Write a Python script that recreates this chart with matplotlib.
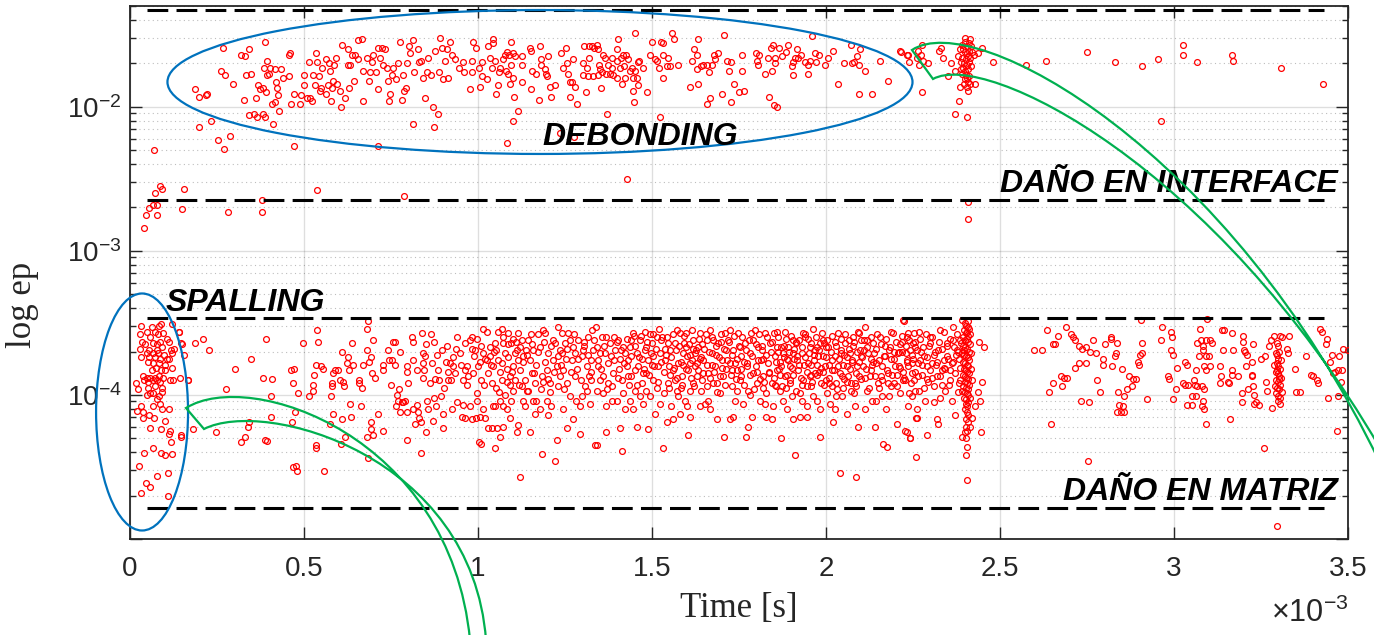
import numpy as np
import matplotlib.pyplot as plt
from matplotlib.patches import Ellipse, PathPatch
from matplotlib.path import Path
from matplotlib.ticker import FixedLocator, FuncFormatter, LogLocator, NullFormatter

plt.rcParams['font.family'] = ['Liberation Sans', 'DejaVu Sans']
plt.rcParams['mathtext.default'] = 'regular'

# points: (time in ms, log10 of ep)
early_pts = [
    (0.040, -2.84), (0.046, -2.75), (0.055, -2.70), (0.066, -2.68), (0.078, -2.68), (0.078, -2.75),
    (0.072, -2.60), (0.086, -2.55), (0.092, -2.57), (0.069, -2.30), (0.149, -2.71), (0.155, -2.57),
    (0.282, -2.73), (0.379, -2.65), (0.379, -2.73), (0.537, -2.58), (0.787, -2.62), (1.428, -2.50),
    (2.408, -2.66), (2.408, -2.78), (2.963, -2.10),
]

debond_pts = [
    (0.199, -2.14), (0.234, -2.10), (0.252, -2.23), (0.269, -2.29), (0.288, -2.20), (0.186, -1.88),
    (0.198, -1.93), (0.218, -1.92), (0.221, -1.91), (0.262, -1.75), (0.266, -1.59), (0.273, -1.78),
    (0.295, -1.84), (0.320, -1.64), (0.330, -1.65), (0.343, -1.60), (0.332, -1.78), (0.349, -1.77),
    (0.327, -1.95), (0.341, -2.06), (0.357, -2.05), (0.365, -2.07), (0.361, -1.94), (0.367, -1.85),
    (0.374, -1.88), (0.381, -1.87), (0.390, -1.90), (0.387, -1.55), (0.393, -1.68), (0.386, -1.73),
    (0.393, -1.78), (0.399, -1.77), (0.403, -1.73), (0.417, -1.74), (0.419, -1.83), (0.422, -1.87),
    (0.383, -2.05), (0.388, -2.07), (0.411, -2.12), (0.408, -1.98), (0.417, -1.97), (0.427, -2.03),
    (0.425, -1.92), (0.434, -1.74), (0.440, -1.80), (0.457, -1.79), (0.457, -1.64), (0.460, -1.63),
    (0.463, -1.98), (0.471, -2.27), (0.471, -1.91), (0.489, -1.98), (0.491, -1.92), (0.500, -1.78),
    (0.500, -1.85), (0.509, -1.94), (0.514, -1.69), (0.517, -1.94), (0.523, -1.96), (0.526, -1.78),
    (0.532, -1.85), (0.535, -1.63), (0.537, -1.69), (0.543, -1.79), (0.546, -1.89), (0.549, -1.87),
    (0.552, -1.73), (0.563, -1.91), (0.563, -1.67), (0.569, -1.85), (0.572, -1.70), (0.575, -1.75),
    (0.578, -1.96), (0.580, -1.87), (0.583, -1.82), (0.586, -1.71), (0.592, -1.66), (0.595, -1.84),
    (0.603, -1.89), (0.606, -2.00), (0.609, -1.57), (0.618, -1.94), (0.626, -1.60), (0.626, -1.71),
    (0.629, -1.87), (0.632, -1.71), (0.638, -1.64), (0.644, -1.82), (0.647, -1.64), (0.655, -1.67),
    (0.655, -1.54), (0.667, -1.53), (0.670, -1.96), (0.670, -1.75), (0.681, -1.66), (0.687, -1.82),
    (0.690, -1.76), (0.695, -1.69), (0.698, -1.64), (0.707, -1.76), (0.713, -1.88), (0.713, -2.27),
    (0.713, -1.59), (0.718, -1.66), (0.724, -1.59), (0.727, -1.71), (0.733, -1.60), (0.739, -1.73),
    (0.741, -1.82), (0.744, -1.96), (0.747, -1.91), (0.753, -1.78), (0.756, -1.73), (0.764, -1.81),
    (0.770, -1.70), (0.776, -1.55), (0.782, -1.95), (0.784, -1.78), (0.787, -1.89), (0.793, -1.87),
    (0.796, -1.70), (0.802, -1.58), (0.805, -1.63), (0.813, -2.12), (0.813, -1.54), (0.816, -1.76),
    (0.828, -1.60), (0.830, -1.69), (0.836, -1.68), (0.842, -1.80), (0.848, -1.94), (0.853, -1.76),
    (0.856, -1.66), (0.865, -1.78), (0.871, -2.00), (0.874, -2.14), (0.876, -1.61), (0.885, -2.05),
    (0.888, -1.76), (0.891, -1.52), (0.897, -1.59), (0.900, -1.81), (0.905, -1.68), (0.910, -1.60),
    (0.914, -1.80), (0.920, -1.55), (0.925, -1.64), (0.934, -1.67), (0.945, -1.73),
    (0.957, -1.69), (0.960, -1.76), (0.983, -1.68), (0.983, -1.76), (0.986, -1.55), (0.994, -1.59),
    (0.977, -1.88), (1.003, -1.73), (1.006, -1.86), (1.011, -1.69), (1.011, -1.79), (1.026, -1.81),
    (1.029, -1.58), (1.034, -1.66), (1.040, -1.73), (1.043, -1.53), (1.043, -1.56), (1.049, -1.68),
    (1.052, -1.91), (1.057, -1.85), (1.063, -1.73), (1.060, -1.76), (1.072, -1.67), (1.078, -1.64),
    (1.080, -1.75), (1.083, -1.62), (1.086, -1.77), (1.089, -1.64), (1.092, -1.84), (1.095, -1.55),
    (1.095, -1.71), (1.101, -1.63), (1.101, -1.80), (1.103, -1.93), (1.106, -1.65), (1.115, -2.03),
    (1.101, -2.10), (1.083, -2.25), (1.126, -1.83), (1.126, -1.71), (1.126, -1.65), (1.149, -1.59),
    (1.152, -1.61), (1.152, -1.88), (1.155, -1.75), (1.167, -1.77), (1.178, -1.58), (1.181, -1.67),
    (1.175, -1.95), (1.181, -1.71), (1.193, -1.74), (1.195, -1.77), (1.198, -1.79), (1.201, -1.65),
    (1.207, -1.86), (1.210, -1.93), (1.221, -1.85), (1.239, -1.63), (1.244, -1.73), (1.253, -1.59),
    (1.256, -1.70), (1.259, -1.77), (1.264, -1.83), (1.264, -1.93), (1.273, -1.67), (1.270, -1.83),
    (1.279, -1.86), (1.284, -1.98), (1.302, -1.70), (1.305, -1.58), (1.302, -1.78), (1.310, -1.90),
    (1.313, -1.73), (1.316, -1.79), (1.319, -1.58), (1.319, -1.66), (1.328, -1.58), (1.330, -1.79),
    (1.333, -1.59), (1.342, -1.57), (1.345, -1.60), (1.345, -1.78), (1.348, -1.71), (1.351, -1.74),
    (1.353, -1.87), (1.356, -1.76), (1.359, -1.64), (1.365, -1.66), (1.368, -1.77), (1.371, -2.05),
    (1.374, -1.71), (1.379, -1.77), (1.385, -1.66), (1.385, -1.73), (1.388, -1.78), (1.399, -1.68),
    (1.399, -1.60), (1.399, -1.80), (1.402, -1.53), (1.408, -1.73), (1.411, -1.66), (1.414, -1.84),
    (1.417, -1.64), (1.420, -1.72), (1.422, -1.80), (1.425, -1.64), (1.431, -1.67), (1.437, -1.75),
    (1.443, -1.73), (1.445, -1.80), (1.445, -1.89), (1.448, -1.97), (1.451, -1.75), (1.451, -1.49),
    (1.457, -1.80), (1.460, -1.69), (1.460, -1.85), (1.463, -1.68), (1.474, -1.73), (1.486, -1.90),
    (1.494, -1.64), (1.500, -1.55), (1.509, -1.67), (1.514, -1.68), (1.520, -1.73), (1.523, -2.07),
    (1.526, -1.55), (1.532, -1.56), (1.532, -1.80), (1.532, -1.64), (1.543, -1.72), (1.546, -1.66),
    (1.552, -1.72), (1.557, -1.49), (1.563, -1.53), (1.575, -1.71), (1.609, -1.86), (1.615, -1.68),
    (1.621, -1.60), (1.629, -1.74), (1.629, -1.64), (1.632, -1.84), (1.632, -1.53), (1.641, -1.72),
    (1.647, -1.71), (1.658, -1.71), (1.658, -1.98), (1.664, -1.76), (1.667, -1.94), (1.672, -1.71),
    (1.678, -1.64), (1.681, -1.67), (1.690, -1.63), (1.701, -1.91), (1.707, -1.50), (1.716, -1.68),
    (1.721, -1.75), (1.727, -1.69), (1.727, -1.97), (1.736, -1.84), (1.750, -1.90), (1.759, -1.64),
    (1.759, -1.75), (1.764, -1.89), (1.799, -1.63), (1.802, -1.68), (1.805, -1.71), (1.807, -1.64),
    (1.825, -1.77), (1.833, -1.66), (1.836, -1.93), (1.842, -1.59), (1.845, -1.75), (1.848, -1.57),
    (1.851, -1.99), (1.859, -2.00), (1.853, -1.70), (1.853, -1.66), (1.865, -1.59), (1.874, -1.65),
    (1.885, -1.62), (1.891, -1.57), (1.902, -1.72), (1.905, -1.78), (1.905, -1.69), (1.911, -1.66),
    (1.917, -1.60), (1.920, -1.66), (1.928, -1.64), (1.940, -1.69), (1.948, -1.71), (1.948, -1.77),
    (1.954, -1.68), (1.960, -1.51), (1.968, -1.63), (1.971, -1.69), (1.980, -1.64), (1.997, -1.71),
    (2.006, -1.66), (2.020, -1.61), (2.034, -1.84), (2.052, -1.70), (2.072, -1.57), (2.075, -1.70),
    (2.080, -1.69), (2.089, -1.65), (2.095, -1.71), (2.095, -1.91), (2.098, -1.60), (2.112, -1.75),
    (2.132, -1.91), (2.155, -1.68), (2.178, -1.82), (2.213, -1.61), (2.233, -1.64), (2.239, -1.69),
    (1.276, -2.21), (1.236, -2.18),
]

interface_col_pts = [
    (2.216, -1.62), (2.236, -1.64), (2.264, -1.61), (2.273, -1.64), (2.276, -1.57), (2.261, -1.66),
    (2.267, -1.71), (2.279, -1.68), (2.293, -1.70), (2.276, -1.90), (2.325, -1.61), (2.330, -1.59),
    (2.336, -1.66), (2.359, -1.70), (2.351, -1.79), (2.371, -1.75), (2.385, -1.86), (2.382, -1.96),
    (2.371, -2.05), (2.405, -2.07), (2.408, -1.83), (2.414, -1.84), (2.428, -1.84), (2.408, -1.89),
    (2.437, -1.63), (2.448, -1.59), (2.480, -1.69),
    (2.390, -1.57), (2.395, -1.60), (2.400, -1.55), (2.404, -1.58), (2.410, -1.56), (2.398, -1.62),
    (2.406, -1.63), (2.412, -1.61), (2.392, -1.66), (2.402, -1.67), (2.408, -1.65), (2.415, -1.66),
    (2.388, -1.69), (2.396, -1.70), (2.404, -1.71), (2.412, -1.69), (2.420, -1.62), (2.394, -1.73),
    (2.400, -1.75), (2.409, -1.74), (2.417, -1.72), (2.391, -1.77), (2.402, -1.78), (2.411, -1.79),
    (2.398, -1.81), (2.406, -1.80), (2.385, -1.60), (2.418, -1.58), (2.425, -1.64), (2.396, -1.84),
    (2.404, -1.86), (2.413, -1.53), (2.400, -1.52), (2.380, -1.65), (2.388, -1.74),
    (2.750, -1.62), (2.830, -1.69), (2.908, -1.72), (2.954, -1.67), (3.026, -1.57), (3.026, -1.64),
    (3.066, -1.69), (3.167, -1.64), (3.170, -1.68), (3.307, -1.73), (3.428, -1.84), (2.632, -1.68),
    (2.575, -1.71),
]

spalling_pts = [
    (0.032, -3.52), (0.063, -3.53), (0.089, -3.51), (0.083, -3.52), (0.121, -3.51), (0.049, -3.56),
    (0.072, -3.56), (0.029, -3.58), (0.057, -3.60), (0.080, -3.58), (0.095, -3.57), (0.106, -3.61),
    (0.141, -3.56), (0.112, -3.63), (0.034, -3.63), (0.043, -3.65), (0.066, -3.64), (0.078, -3.65),
    (0.086, -3.63), (0.149, -3.65), (0.029, -3.68), (0.055, -3.69), (0.078, -3.69), (0.092, -3.67),
    (0.118, -3.69), (0.126, -3.68), (0.049, -3.71), (0.066, -3.71), (0.080, -3.71), (0.098, -3.72),
    (0.121, -3.71), (0.155, -3.72), (0.032, -3.74), (0.055, -3.74), (0.072, -3.74), (0.086, -3.75),
    (0.106, -3.75), (0.112, -3.75), (0.052, -3.77), (0.066, -3.78), (0.083, -3.78), (0.101, -3.79),
    (0.121, -3.81), (0.063, -3.83), (0.075, -3.81), (0.089, -3.83), (0.101, -3.83), (0.037, -3.87),
    (0.049, -3.88), (0.057, -3.88), (0.072, -3.88), (0.083, -3.87), (0.095, -3.88), (0.115, -3.90),
    (0.124, -3.90), (0.144, -3.88), (0.167, -3.90), (0.040, -3.90), (0.052, -3.91), (0.066, -3.90),
    (0.078, -3.90), (0.086, -3.91), (0.017, -3.92), (0.023, -3.96), (0.052, -3.95), (0.072, -3.94),
    (0.092, -3.95), (0.057, -3.99), (0.066, -3.99), (0.092, -3.98), (0.049, -4.00), (0.083, -4.01),
    (0.078, -4.03), (0.086, -4.06), (0.032, -4.08), (0.066, -4.08), (0.092, -4.10), (0.112, -4.10),
    (0.020, -4.11), (0.037, -4.12), (0.055, -4.14), (0.037, -4.16), (0.069, -4.16), (0.101, -4.18),
    (0.057, -4.23), (0.089, -4.24), (0.115, -4.25), (0.112, -4.27), (0.147, -4.28), (0.118, -4.33),
    (0.066, -4.37), (0.040, -4.40), (0.089, -4.40), (0.101, -4.42), (0.121, -4.41), (0.026, -4.49),
    (0.078, -4.56), (0.109, -4.54), (0.046, -4.61), (0.057, -4.64), (0.032, -4.68), (0.109, -4.70),
]

matrix_early_pts = [
    (0.147, -3.64), (0.141, -3.56), (0.167, -3.90), (0.147, -4.29), (0.181, -4.24), (0.187, -3.64),
    (0.210, -3.61), (0.227, -3.69), (0.247, -4.26), (0.276, -3.96), (0.302, -3.82), (0.319, -4.33),
    (0.330, -4.29), (0.339, -4.22), (0.342, -4.19), (0.348, -3.75), (0.382, -3.88), (0.391, -3.61),
    (0.388, -4.31), (0.394, -4.32), (0.408, -3.89), (0.405, -4.01), (0.405, -4.15), (0.463, -3.83),
    (0.471, -3.82), (0.468, -3.92), (0.466, -4.19), (0.474, -4.12), (0.468, -4.50), (0.477, -4.49),
    (0.480, -4.53), (0.483, -3.99), (0.497, -3.64), (0.514, -4.01), (0.526, -3.97), (0.526, -3.93),
    (0.529, -3.86), (0.534, -3.79), (0.534, -4.35), (0.534, -4.37), (0.537, -3.55), (0.540, -3.63),
    (0.549, -3.80), (0.555, -3.82), (0.557, -4.53), (0.575, -4.20), (0.578, -4.01), (0.580, -3.94),
    (0.580, -3.92), (0.583, -3.85), (0.583, -4.13), (0.589, -3.83), (0.598, -3.83), (0.603, -3.90),
    (0.606, -4.34), (0.609, -4.17), (0.609, -3.70), (0.612, -3.91), (0.615, -3.94), (0.618, -4.29),
    (0.624, -3.78), (0.626, -3.74), (0.629, -3.83), (0.632, -4.06), (0.638, -3.64), (0.635, -4.15),
    (0.641, -3.79), (0.658, -3.90), (0.658, -3.92), (0.664, -4.08), (0.667, -3.95), (0.670, -3.79),
    (0.681, -3.69), (0.684, -3.49), (0.681, -3.54), (0.681, -4.29), (0.684, -4.44), (0.687, -3.77),
    (0.693, -3.74), (0.693, -4.19), (0.693, -4.24), (0.695, -3.85), (0.698, -4.28), (0.698, -3.62),
    (0.704, -3.88), (0.713, -4.13), (0.727, -3.79), (0.727, -3.83), (0.727, -4.25), (0.741, -3.69),
    (0.744, -3.76), (0.750, -3.93), (0.753, -3.76), (0.756, -3.63), (0.761, -3.79), (0.761, -3.63),
    (0.764, -4.08), (0.767, -4.00), (0.770, -4.04), (0.773, -3.96), (0.776, -3.70), (0.776, -4.12),
    (0.782, -4.05), (0.784, -4.05), (0.790, -4.04), (0.796, -4.31), (0.796, -4.12), (0.796, -3.80),
    (0.796, -3.84), (0.799, -3.92), (0.810, -3.60), (0.813, -4.10), (0.813, -3.76), (0.813, -3.63),
    (0.819, -4.20), (0.825, -4.07), (0.825, -3.83), (0.828, -4.12), (0.830, -4.16), (0.836, -4.19),
    (0.836, -4.40), (0.839, -3.57), (0.842, -3.71), (0.842, -3.78), (0.845, -3.83), (0.842, -3.88),
    (0.848, -3.73), (0.851, -3.65), (0.851, -4.26), (0.853, -4.04), (0.856, -4.10), (0.862, -3.92),
    (0.865, -3.58), (0.868, -3.78), (0.871, -4.18), (0.874, -3.63), (0.874, -4.02), (0.876, -3.89),
    (0.879, -4.08), (0.882, -3.72), (0.885, -3.83), (0.888, -3.90), (0.894, -4.01), (0.897, -3.69),
    (0.899, -4.23), (0.899, -4.13), (0.902, -3.95), (0.908, -3.77), (0.911, -3.66), (0.914, -3.84),
    (0.914, -3.90), (0.920, -3.78), (0.922, -3.90), (0.925, -4.10), (0.928, -3.80), (0.928, -3.74),
    (0.934, -3.85), (0.937, -3.68), (0.940, -4.05), (0.940, -3.60),
]

matrix_mid_pts = [
    (0.948, -3.71), (0.962, -3.64), (0.967, -3.80), (0.977, -3.62), (0.984, -3.60), (0.982, -3.68),
    (0.991, -3.69), (0.996, -3.61), (1.001, -3.80), (0.986, -3.85), (0.962, -3.83), (0.958, -3.90),
    (0.967, -3.93), (0.958, -4.07), (0.953, -4.15), (0.962, -4.16), (0.977, -4.08), (0.982, -4.17),
    (0.996, -3.99), (0.998, -4.04), (0.994, -4.16), (1.005, -4.15), (1.015, -4.10), (1.020, -4.16),
    (1.015, -3.54), (1.025, -3.56), (1.013, -3.71), (1.020, -3.75), (1.025, -3.76), (1.010, -3.90),
    (1.005, -3.77), (1.029, -3.85), (1.034, -3.67), (1.034, -3.73), (1.039, -3.92), (1.029, -4.23),
    (1.041, -4.23), (1.004, -4.33), (1.010, -4.34), (1.044, -3.80), (1.044, -4.08),
    (1.049, -3.64), (1.053, -3.69), (1.058, -3.76), (1.063, -3.84), (1.068, -3.90), (1.073, -3.64),
    (1.077, -3.71), (1.082, -3.91), (1.087, -3.65), (1.092, -3.93), (1.096, -4.04), (1.101, -3.80),
    (1.106, -3.71), (1.111, -3.69), (1.116, -3.76), (1.120, -3.83), (1.125, -3.94), (1.130, -4.04),
    (1.135, -4.08), (1.053, -3.95), (1.063, -4.04), (1.073, -4.08), (1.082, -4.10), (1.049, -4.08),
    (1.073, -4.22), (1.063, -4.29), (1.049, -4.37), (1.092, -4.16), (1.111, -4.26), (1.122, -4.57),
    (1.116, -4.21), (1.101, -3.97), (1.092, -3.87), (1.058, -3.56), (1.068, -3.54), (1.087, -3.57),
    (1.101, -3.61), (1.120, -3.67), (1.130, -3.73), (1.135, -3.90), (1.140, -3.97), (1.125, -3.62),
    (1.077, -4.00), (1.068, -3.78), (1.082, -3.82), (1.106, -3.90), (1.096, -3.64), (1.116, -3.57),
    (1.138, -3.69), (1.055, -4.23),
    (1.144, -3.62), (1.149, -3.76), (1.154, -3.65), (1.159, -3.69), (1.164, -3.92), (1.168, -4.04),
    (1.173, -3.58), (1.178, -3.67), (1.183, -3.87), (1.187, -3.55), (1.192, -3.77), (1.197, -3.83),
    (1.202, -3.71), (1.207, -3.98), (1.211, -4.08), (1.216, -3.76), (1.221, -4.46), (1.226, -4.31),
    (1.231, -3.53), (1.235, -3.69), (1.149, -4.26), (1.183, -4.41), (1.178, -4.10), (1.164, -4.13),
    (1.207, -3.92), (1.216, -3.62), (1.226, -3.80), (1.144, -3.97), (1.154, -3.85), (1.197, -4.04),
    (1.187, -3.91), (1.168, -3.79), (1.231, -3.94), (1.221, -3.64), (1.202, -4.14), (1.157, -4.04),
    (1.235, -3.87), (1.192, -3.57),
    (1.240, -3.71), (1.245, -3.83), (1.250, -3.64), (1.255, -3.92), (1.259, -3.57), (1.264, -4.01),
    (1.269, -3.76), (1.274, -3.67), (1.278, -3.87), (1.283, -4.04), (1.288, -3.62), (1.293, -4.27),
    (1.298, -3.73), (1.302, -3.69), (1.307, -3.94), (1.312, -3.80), (1.317, -3.60), (1.322, -4.06),
    (1.326, -3.76), (1.331, -3.69), (1.245, -4.10), (1.255, -4.23), (1.274, -4.17), (1.293, -4.08),
    (1.312, -3.97), (1.326, -3.90), (1.278, -3.71), (1.264, -3.62), (1.240, -3.57), (1.304, -3.63),
    (1.319, -3.87), (1.298, -4.01), (1.253, -3.75), (1.285, -3.82), (1.329, -3.55), (1.339, -3.53),
    (1.336, -4.35),
    (1.341, -3.67), (1.346, -3.80), (1.350, -3.90), (1.355, -3.60), (1.360, -3.99), (1.365, -3.71),
    (1.369, -4.08), (1.374, -3.78), (1.379, -3.64), (1.384, -3.94), (1.389, -3.85), (1.393, -3.69),
    (1.398, -4.04), (1.403, -3.62), (1.408, -3.75), (1.413, -3.90), (1.417, -3.67), (1.422, -4.10),
    (1.427, -3.80), (1.341, -4.35), (1.369, -4.26), (1.413, -4.39), (1.408, -4.23), (1.350, -3.71),
    (1.384, -4.04), (1.398, -3.63), (1.374, -3.92), (1.360, -3.87), (1.427, -3.61), (1.417, -3.99),
    (1.391, -3.76), (1.343, -3.97), (1.368, -3.60), (1.406, -3.82), (1.422, -3.71),
    (1.432, -3.76), (1.437, -3.67), (1.441, -3.87), (1.446, -3.57), (1.451, -3.97), (1.456, -3.71),
    (1.460, -3.80), (1.465, -3.62), (1.470, -3.92), (1.475, -4.06), (1.480, -3.69), (1.484, -3.85),
    (1.489, -3.76), (1.494, -4.01), (1.499, -3.64), (1.504, -3.90), (1.508, -4.13), (1.513, -3.60),
    (1.518, -3.80), (1.523, -3.71), (1.437, -4.04), (1.446, -4.10), (1.456, -4.22), (1.489, -4.24),
    (1.532, -4.37), (1.465, -4.01), (1.480, -3.56), (1.499, -3.79), (1.513, -3.95), (1.523, -4.06),
    (1.441, -3.62), (1.470, -3.75), (1.484, -3.67), (1.504, -3.73), (1.451, -3.83), (1.494, -3.58),
    (1.521, -3.54), (1.527, -3.62), (1.435, -3.93), (1.473, -3.85),
    (0.952, -3.79), (0.971, -3.87), (0.989, -3.73), (1.008, -3.66), (1.018, -3.93), (1.037, -3.79),
    (1.046, -3.70), (1.061, -3.98), (1.071, -3.60), (1.085, -3.74), (1.098, -3.84), (1.108, -3.63),
    (1.118, -3.93), (1.128, -3.77), (1.142, -3.72), (1.152, -3.58), (1.162, -3.85), (1.171, -3.70),
    (1.181, -3.96), (1.190, -3.63), (1.200, -3.89), (1.209, -3.66), (1.219, -3.84), (1.229, -3.73),
    (1.238, -3.79), (1.248, -3.96), (1.257, -3.68), (1.267, -3.84), (1.276, -3.58), (1.286, -3.75),
    (1.296, -3.90), (1.305, -3.66), (1.315, -3.72), (1.324, -3.84), (1.334, -3.62), (1.344, -3.76),
    (1.353, -3.82), (1.363, -3.66), (1.372, -3.96), (1.382, -3.73), (1.391, -3.60), (1.401, -3.88),
    (1.410, -3.69), (1.420, -3.78), (1.430, -3.87), (1.439, -3.73), (1.449, -3.59),
]

matrix_late_pts = [
    (1.537, -3.76), (1.542, -3.60), (1.547, -3.92), (1.551, -3.69), (1.556, -4.08), (1.561, -3.83),
    (1.566, -3.64), (1.571, -3.97), (1.575, -3.78), (1.580, -3.57), (1.585, -3.87), (1.590, -3.71),
    (1.595, -4.04), (1.599, -3.67), (1.604, -3.83), (1.609, -4.15), (1.614, -3.76), (1.618, -3.92),
    (1.534, -3.99), (1.544, -4.19), (1.561, -4.17), (1.580, -4.13), (1.604, -4.28), (1.609, -3.97),
    (1.618, -3.62), (1.599, -3.57), (1.571, -3.55), (1.550, -3.80), (1.588, -3.79), (1.609, -3.72),
    (1.623, -3.80), (1.566, -3.90), (1.537, -3.68), (1.592, -3.64), (1.617, -3.68), (1.575, -4.01),
    (1.602, -4.08), (1.551, -3.86), (1.582, -3.95), (1.609, -3.78),
    (1.628, -3.87), (1.633, -3.67), (1.638, -3.57), (1.642, -3.97), (1.647, -3.76), (1.652, -4.06),
    (1.657, -3.62), (1.662, -3.85), (1.666, -3.55), (1.671, -3.71), (1.676, -3.92), (1.681, -3.80),
    (1.686, -4.17), (1.690, -3.64), (1.695, -3.99), (1.700, -3.76), (1.705, -3.87), (1.710, -3.57),
    (1.714, -3.69), (1.708, -4.29), (1.638, -4.08), (1.666, -4.10), (1.695, -3.87), (1.623, -3.71),
    (1.657, -3.94), (1.676, -3.62), (1.645, -3.65), (1.684, -3.72), (1.630, -3.78), (1.712, -3.82),
    (1.662, -4.04), (1.698, -3.63), (1.647, -3.85), (1.673, -3.79), (1.688, -3.92), (1.638, -3.75),
    (1.719, -3.62), (1.724, -3.78), (1.729, -3.94), (1.733, -3.69), (1.738, -4.04), (1.743, -3.83),
    (1.748, -3.57), (1.753, -3.90), (1.757, -3.73), (1.762, -4.06), (1.767, -3.64), (1.772, -3.80),
    (1.777, -3.97), (1.781, -3.71), (1.786, -4.15), (1.791, -3.85), (1.796, -3.55), (1.801, -3.92),
    (1.805, -3.76), (1.810, -4.04), (1.724, -4.17), (1.733, -4.15), (1.770, -4.29), (1.777, -4.22),
    (1.791, -3.62), (1.757, -3.87), (1.738, -3.78), (1.805, -3.67), (1.781, -4.00), (1.729, -3.83),
    (1.753, -3.67), (1.799, -3.80), (1.764, -3.77), (1.745, -3.97), (1.784, -3.57), (1.810, -3.89),
    (1.724, -3.55),
    (1.815, -3.69), (1.820, -3.87), (1.824, -3.57), (1.829, -3.99), (1.834, -3.78), (1.839, -3.64),
    (1.844, -3.92), (1.848, -4.08), (1.853, -3.73), (1.858, -3.83), (1.863, -3.60), (1.868, -3.97),
    (1.872, -4.30), (1.877, -3.71), (1.882, -3.87), (1.887, -4.10), (1.892, -3.67), (1.896, -3.80),
    (1.901, -4.01), (1.906, -3.62), (1.911, -4.42), (1.906, -4.17), (1.844, -4.17), (1.829, -4.15),
    (1.868, -3.77), (1.853, -3.93), (1.882, -3.56), (1.896, -3.92), (1.820, -3.75), (1.837, -3.84),
    (1.875, -4.04), (1.892, -3.76), (1.860, -3.67), (1.904, -3.86), (1.824, -4.06), (1.850, -3.57),
    (1.885, -3.95), (1.869, -3.86), (1.818, -3.95), (1.909, -3.75),
    (1.915, -3.64), (1.920, -3.83), (1.925, -3.99), (1.930, -3.71), (1.935, -3.90), (1.939, -3.60),
    (1.944, -4.08), (1.949, -3.78), (1.954, -3.67), (1.958, -3.94), (1.963, -3.54), (1.968, -3.85),
    (1.973, -4.04), (1.978, -3.73), (1.983, -4.29), (1.987, -3.92), (1.992, -3.62), (1.997, -3.80),
    (2.002, -3.99), (1.925, -4.15), (1.944, -4.15), (1.983, -4.10), (1.917, -3.76), (1.954, -3.87),
    (1.973, -3.67), (1.990, -3.73), (1.935, -3.57), (1.963, -4.01), (2.000, -3.90), (1.946, -3.94),
    (1.968, -3.69), (1.930, -4.04), (1.981, -3.84), (1.995, -3.64), (1.958, -3.79),
    (2.006, -3.67), (2.011, -4.06), (2.016, -3.83), (2.021, -4.19), (2.026, -3.73), (2.030, -3.92),
    (2.035, -3.57), (2.040, -4.54), (2.045, -4.01), (2.049, -3.79), (2.054, -3.64), (2.059, -4.13),
    (2.064, -3.87), (2.069, -3.71), (2.073, -3.97), (2.078, -3.60), (2.083, -4.08), (2.086, -4.57),
    (2.088, -3.80), (2.093, -4.22), (2.098, -3.69), (2.016, -3.94), (2.030, -4.01), (2.049, -3.95),
    (2.076, -3.76), (2.091, -3.56), (2.040, -3.85), (2.059, -3.91), (2.083, -3.92), (2.026, -4.10),
    (2.096, -3.87), (2.009, -3.79), (2.067, -3.62), (2.043, -3.71), (2.081, -3.99),
    (2.102, -3.62), (2.107, -3.80), (2.112, -3.53), (2.117, -3.97), (2.121, -3.71), (2.126, -3.87),
    (2.131, -4.04), (2.136, -3.64), (2.141, -4.22), (2.145, -3.78), (2.150, -3.92), (2.155, -3.60),
    (2.160, -4.01), (2.164, -4.34), (2.169, -3.73), (2.174, -4.36), (2.179, -3.85), (2.184, -3.67),
    (2.188, -3.94), (2.193, -3.57), (2.198, -3.80), (2.203, -4.20), (2.208, -3.71), (2.212, -3.99),
    (2.217, -3.63), (2.222, -3.90), (2.227, -4.25), (2.232, -3.76), (2.236, -4.08), (2.241, -4.30),
    (2.246, -3.85), (2.251, -3.64), (2.255, -3.97), (2.260, -4.43), (2.265, -3.78), (2.222, -3.48),
    (2.260, -4.16), (2.112, -4.10), (2.143, -4.04), (2.182, -4.01), (2.210, -3.80), (2.236, -3.57),
    (2.157, -3.87), (2.128, -3.75), (2.195, -3.92), (2.253, -3.90), (2.172, -4.10), (2.109, -3.69),
]

matrix_dense_pts = [
    (1.452, -3.66), (1.458, -3.93), (1.463, -3.74), (1.468, -3.59), (1.477, -3.82), (1.482, -3.97),
    (1.487, -3.63), (1.492, -3.86), (1.497, -3.71), (1.502, -3.58), (1.507, -3.80), (1.511, -3.68),
    (1.516, -3.91), (1.525, -3.77), (1.529, -3.60), (1.535, -3.84), (1.540, -3.72), (1.545, -3.64),
    (1.549, -3.95), (1.554, -3.74), (1.559, -3.58), (1.564, -3.81), (1.568, -3.69), (1.573, -3.88),
    (1.578, -3.66), (1.583, -3.77), (1.587, -3.93), (1.593, -3.59), (1.597, -3.82), (1.601, -3.73),
    (1.606, -3.65), (1.611, -3.88), (1.616, -3.55), (1.620, -3.94), (1.626, -3.69), (1.631, -3.83),
    (1.635, -3.61), (1.640, -3.74), (1.644, -3.90), (1.649, -3.68), (1.654, -3.58), (1.659, -3.79),
    (1.664, -3.70), (1.668, -3.88), (1.673, -3.60), (1.678, -3.84), (1.683, -3.66), (1.687, -3.98),
    (1.692, -3.74), (1.697, -3.58), (1.702, -3.81), (1.706, -3.68), (1.711, -3.93), (1.716, -3.76),
    (1.721, -3.63), (1.726, -3.86), (1.731, -3.72), (1.735, -3.59), (1.740, -3.89), (1.745, -3.75),
    (1.750, -3.66), (1.755, -3.82), (1.760, -3.60), (1.765, -3.93), (1.769, -3.69), (1.774, -3.78),
    (1.779, -3.62), (1.783, -3.86), (1.788, -3.73), (1.793, -3.96), (1.798, -3.65), (1.803, -3.84),
    (1.808, -3.58), (1.812, -3.76), (1.817, -3.66), (1.822, -3.91), (1.827, -3.72), (1.831, -3.60),
    (1.836, -3.85), (1.841, -3.70), (1.846, -3.63), (1.851, -3.88), (1.855, -3.77), (1.860, -3.56),
    (1.865, -3.82), (1.870, -3.67), (1.874, -3.94), (1.879, -3.74), (1.884, -3.61), (1.889, -3.86),
    (1.893, -3.70), (1.898, -3.59), (1.903, -3.81), (1.908, -3.68), (1.913, -3.97), (1.918, -3.73),
    (1.922, -3.62), (1.927, -3.88), (1.932, -3.67), (1.937, -3.79), (1.941, -3.58), (1.946, -3.84),
    (1.951, -3.71), (1.956, -3.64), (1.961, -3.91), (1.965, -3.76), (1.970, -3.60), (1.975, -3.86),
    (1.980, -3.69), (1.985, -3.81), (1.989, -3.57), (1.994, -3.93), (1.999, -3.74), (2.004, -3.62),
    (2.008, -3.88), (2.013, -3.70), (2.018, -3.59), (2.023, -3.83), (2.028, -3.66), (2.033, -3.96),
    (2.037, -3.75), (2.042, -3.61), (2.047, -3.87), (2.052, -3.72), (2.056, -3.58), (2.061, -3.80),
    (2.066, -3.68), (2.071, -3.92), (2.075, -3.77), (2.080, -3.63), (2.085, -3.85), (2.090, -3.70),
    (2.095, -3.57), (2.100, -3.89), (2.104, -3.74), (2.109, -3.62), (2.114, -3.82), (2.119, -3.67),
    (2.123, -3.95), (2.128, -3.60), (2.133, -3.79), (2.138, -3.71), (2.142, -3.87), (2.147, -3.58),
    (2.152, -3.76), (2.157, -3.65), (2.162, -3.90), (2.166, -3.73), (2.171, -3.61), (2.176, -3.83),
    (2.181, -3.69), (2.186, -3.56), (2.190, -3.86), (2.195, -3.75), (2.200, -3.63), (2.205, -3.94),
    (2.209, -3.70), (2.214, -3.81), (2.219, -3.59), (2.224, -3.88), (2.229, -3.66), (2.233, -3.77),
    (2.238, -3.62), (2.243, -3.92), (2.248, -3.72), (2.252, -3.57), (2.257, -3.84), (2.262, -3.69),
    (2.267, -3.97), (2.271, -3.61), (2.276, -3.79), (2.281, -3.73), (2.286, -3.58), (2.290, -3.89),
    (2.295, -3.66), (2.300, -3.83), (2.305, -3.60), (2.310, -3.94), (2.314, -3.70), (2.319, -3.77),
    (2.324, -3.63), (2.329, -3.87), (2.334, -3.68), (2.338, -3.56), (2.343, -3.82), (2.348, -3.73),
    (2.353, -3.93), (2.357, -3.61), (2.362, -3.78), (2.367, -3.67), (2.372, -3.85), (2.376, -3.58),
    (2.381, -3.75), (2.384, -3.90), (2.380, -3.70), (2.386, -3.62),
    (1.856, -3.94), (1.862, -3.70), (1.871, -3.80), (1.880, -3.66), (1.888, -3.75), (1.897, -3.90),
    (1.905, -3.71), (1.914, -3.63), (1.923, -3.79), (1.931, -3.93), (1.940, -3.74), (1.949, -3.61),
    (1.957, -3.86), (1.966, -3.72), (1.974, -3.79), (1.983, -3.64), (1.991, -3.84), (2.000, -3.67),
    (2.009, -3.92), (2.017, -3.76), (2.026, -3.63), (2.034, -3.80), (2.043, -3.69), (2.051, -3.89),
    (2.060, -3.74), (2.068, -3.82), (2.077, -3.66), (2.085, -3.94), (2.094, -3.77), (2.102, -3.73),
    (2.111, -3.88), (2.119, -3.62), (2.128, -3.83), (2.136, -3.77), (2.145, -3.68), (2.153, -3.95),
    (2.162, -3.80), (2.170, -3.66), (2.179, -3.92), (2.187, -3.75), (2.196, -3.70), (2.204, -3.86),
    (2.213, -3.65), (2.221, -3.84), (2.230, -3.71), (2.238, -3.99), (2.247, -3.78), (2.255, -3.67),
    (2.264, -3.87), (2.272, -3.70), (2.281, -3.95), (2.289, -3.74), (2.298, -3.64), (2.306, -3.88),
    (2.315, -3.79), (2.323, -3.69), (2.332, -3.93), (2.340, -3.81), (2.349, -3.66), (2.357, -3.90),
    (2.366, -3.77), (2.374, -3.72), (2.378, -3.98),
]

matrix_col_pts = [
    (2.223, -3.49), (2.232, -3.60), (2.242, -3.69), (2.256, -3.63), (2.266, -3.56), (2.270, -3.76),
    (2.280, -3.67), (2.290, -3.80), (2.299, -3.60), (2.309, -3.72), (2.318, -3.87), (2.328, -3.55),
    (2.338, -3.76), (2.347, -3.64), (2.357, -3.83), (2.366, -3.53), (2.376, -3.69), (2.381, -3.92),
    (2.227, -3.90), (2.247, -4.01), (2.261, -4.10), (2.285, -4.04), (2.309, -4.05), (2.328, -4.02),
    (2.342, -3.97), (2.361, -4.04), (2.371, -4.14), (2.232, -4.26), (2.242, -4.30), (2.290, -4.28),
    (2.318, -4.17), (2.323, -4.20), (2.261, -4.16), (2.218, -3.70), (2.237, -3.80), (2.251, -3.75),
    (2.275, -3.86), (2.294, -3.91), (2.304, -3.78), (2.333, -3.83), (2.352, -3.75), (2.366, -3.62),
    (2.440, -3.63), (2.454, -3.67), (2.448, -3.91), (2.443, -4.04), (2.429, -4.08), (2.438, -3.98),
    (2.446, -4.26), (2.390, -4.29), (2.400, -4.26), (2.419, -4.16), (2.414, -4.22),
    (2.392, -3.48), (2.398, -3.50), (2.403, -3.52), (2.407, -3.49), (2.411, -3.54), (2.396, -3.55),
    (2.401, -3.57), (2.405, -3.56), (2.409, -3.59), (2.393, -3.60), (2.399, -3.62), (2.404, -3.61),
    (2.408, -3.63), (2.413, -3.65), (2.395, -3.66), (2.400, -3.67), (2.406, -3.68), (2.410, -3.70),
    (2.391, -3.71), (2.397, -3.72), (2.402, -3.73), (2.407, -3.74), (2.412, -3.76), (2.394, -3.77),
    (2.399, -3.78), (2.404, -3.79), (2.409, -3.80), (2.396, -3.82), (2.401, -3.83), (2.406, -3.84),
    (2.411, -3.85), (2.393, -3.86), (2.398, -3.87), (2.403, -3.88), (2.408, -3.89), (2.400, -3.91),
    (2.405, -3.92), (2.410, -3.93), (2.395, -3.94), (2.402, -3.95), (2.407, -3.96), (2.399, -3.98),
    (2.404, -3.99), (2.409, -4.00), (2.397, -4.02), (2.403, -4.03), (2.408, -4.05), (2.401, -4.06),
    (2.406, -4.08), (2.399, -4.10), (2.404, -4.12), (2.409, -4.14), (2.402, -4.17), (2.407, -4.19),
    (2.403, -4.22), (2.405, -4.25), (2.401, -4.30), (2.404, -4.36), (2.406, -4.59), (2.402, -4.42),
    (2.415, -3.58), (2.418, -3.71), (2.388, -3.64), (2.385, -3.81), (2.420, -3.90), (2.416, -3.82),
    (2.390, -3.97), (2.414, -4.02), (2.397, -3.69), (2.408, -3.53),
]

matrix_tail_pts = [
    (2.599, -3.69), (2.620, -3.69), (2.634, -3.55), (2.651, -3.65), (2.657, -3.65), (2.668, -3.59),
    (2.691, -3.53), (2.703, -3.58), (2.711, -3.60), (2.715, -3.62), (2.726, -3.66), (2.735, -3.68),
    (2.747, -3.67), (2.759, -3.70), (2.766, -3.62), (2.776, -3.71), (2.795, -3.75), (2.802, -3.65),
    (2.818, -3.60), (2.820, -3.61), (2.837, -3.64), (2.833, -3.71), (2.830, -3.73), (2.797, -3.79),
    (2.821, -3.80), (2.728, -3.78), (2.747, -3.78), (2.716, -3.81), (2.674, -3.87), (2.684, -3.88),
    (2.692, -3.88), (2.653, -3.92), (2.642, -3.98), (2.678, -3.94), (2.732, -4.04), (2.756, -4.05),
    (2.787, -3.98), (2.778, -3.90), (2.840, -3.98), (2.856, -4.01), (2.853, -4.08), (2.841, -4.07),
    (2.835, -4.12), (2.848, -4.12), (2.857, -4.12), (2.866, -3.96), (2.880, -3.94), (2.872, -3.87),
    (2.883, -3.89), (2.892, -3.89), (2.852, -3.82), (2.896, -3.77), (2.901, -3.72), (2.900, -3.79),
    (2.908, -3.71), (2.908, -3.64), (2.906, -3.48), (2.922, -4.03), (2.647, -4.20), (2.753, -4.46),
    (2.966, -3.53), (2.963, -3.62), (2.990, -3.56), (2.995, -3.60), (2.990, -3.69), (2.996, -3.72),
    (3.008, -3.81), (2.984, -3.87), (2.986, -3.89), (3.006, -3.96), (2.998, -4.03), (3.032, -3.77),
    (3.036, -3.79), (3.027, -3.92), (3.032, -3.93), (3.041, -3.93), (3.057, -3.90), (3.067, -3.64),
    (3.075, -3.54), (3.079, -3.62), (3.082, -3.66), (3.084, -3.69), (3.092, -3.62), (3.092, -3.73),
    (3.103, -3.62), (3.108, -3.64), (3.103, -3.80), (3.101, -3.73), (3.073, -3.73), (3.063, -3.83),
    (3.087, -3.80), (3.092, -3.83), (3.060, -3.93), (3.067, -3.94), (3.081, -3.94), (3.087, -3.96),
    (3.051, -4.01), (3.062, -4.01), (3.053, -4.07), (3.036, -4.07), (3.082, -4.04), (3.081, -4.08),
    (3.086, -4.10), (3.092, -4.20), (3.094, -3.47), (3.132, -3.80), (3.134, -3.87), (3.132, -3.92),
    (3.142, -3.69), (3.137, -3.55), (3.144, -3.55), (3.168, -3.57), (3.170, -3.69), (3.161, -4.17),
    (3.166, -3.83), (3.168, -3.86), (3.156, -3.91), (3.157, -3.92), (3.185, -3.87), (3.197, -3.59),
    (3.197, -3.63), (3.202, -3.69), (3.204, -3.70), (3.211, -3.72), (3.226, -3.65), (3.207, -3.80),
    (3.224, -3.77), (3.223, -3.86), (3.223, -3.87), (3.228, -3.94), (3.213, -3.96), (3.195, -3.99),
    (3.194, -4.05), (3.231, -4.00), (3.230, -4.06), (3.237, -4.05), (3.245, -4.07), (3.249, -3.75),
    (3.261, -3.73), (3.266, -3.97), (3.263, -3.91), (3.273, -3.66), (3.278, -3.62), (3.287, -3.79),
    (3.293, -3.71), (3.297, -3.64), (3.298, -3.66), (3.287, -3.59), (3.304, -3.59), (3.309, -3.60),
    (3.330, -3.59), (3.324, -3.68), (3.328, -3.71), (3.282, -4.09), (3.258, -4.37), (3.348, -3.82),
    (3.350, -3.98), (3.362, -3.98), (3.379, -3.73), (3.398, -3.87), (3.410, -3.90), (3.395, -3.86),
    (3.415, -3.92), (3.419, -3.54), (3.426, -3.56), (3.436, -3.65), (3.441, -3.61), (3.448, -3.77),
    (3.453, -3.72), (3.458, -3.85), (3.463, -3.84), (3.472, -3.83), (3.482, -3.83), (3.479, -3.91),
    (3.475, -3.73), (3.485, -3.68), (3.499, -3.69), (3.443, -4.02), (3.467, -4.25), (3.472, -4.01),
    (3.295, -4.91),
    (3.295, -3.78), (3.300, -3.80), (3.305, -3.82), (3.292, -3.84), (3.298, -3.85), (3.303, -3.87),
    (3.308, -3.88), (3.294, -3.90), (3.300, -3.91), (3.306, -3.93), (3.297, -3.95), (3.302, -3.96),
    (3.309, -3.98), (3.293, -3.99), (3.299, -4.01), (3.304, -4.02), (3.300, -3.75), (3.296, -3.72),
    (3.303, -3.70), (3.290, -3.94), (3.307, -3.76), (3.298, -4.04), (3.305, -4.06), (3.301, -3.89),
    (3.296, -3.83),
]

# dashed damage thresholds (ep) and their time span (ms)
thresholds = [4.67e-2, 2.27e-3, 3.44e-4, 1.65e-5]
thr_span_ms = [0.05, 3.43]

region_labels = ['DEBONDING', 'DAÑO EN INTERFACE', 'SPALLING', 'DAÑO EN MATRIZ']
label_pos = [(1.184, 5.41e-3, 'left'), (3.471, 2.55e-3, 'right'),
             (0.103, 3.82e-4, 'left'), (3.471, 1.875e-5, 'right')]

all_pts = np.array(early_pts + debond_pts + interface_col_pts + spalling_pts + matrix_early_pts
                   + matrix_mid_pts + matrix_late_pts + matrix_dense_pts + matrix_col_pts
                   + matrix_tail_pts)
t = all_pts[:, 0] * 1e-3
ep = 10 ** all_pts[:, 1]

W, H = 1374, 635
fig = plt.figure(figsize=(W / 100, H / 100), dpi=100)
ax = fig.add_axes([130 / W, 96 / H, 1218 / W, 533 / H])

axc = '#262626'
ax.plot(t, ep, 'o', ms=4.2, mfc='none', mec='red', mew=0.9, zorder=3)
ax.hlines(thresholds, thr_span_ms[0] * 1e-3, thr_span_ms[1] * 1e-3, colors='k',
          linestyles=(0, (6.8, 2.7)), lw=2.2, zorder=4)

ax.set_yscale('log')
ax.set_xlim(0, 3.5e-3)
ax.set_ylim(1e-5, 5e-2)
ax.xaxis.set_major_locator(FixedLocator(np.arange(0, 3.51e-3, 0.5e-3)))
ax.xaxis.set_major_formatter(FuncFormatter(lambda v, _: f'{v * 1e3:g}'))
ax.yaxis.set_major_locator(FixedLocator([1e-5, 1e-4, 1e-3, 1e-2]))
ax.yaxis.set_major_formatter(FuncFormatter(
    lambda v, _: '' if v < 5e-5 else r'$10^{%d}$' % int(round(np.log10(v)))))
ax.yaxis.set_minor_locator(LogLocator(base=10, subs=np.arange(2, 10)))
ax.yaxis.set_minor_formatter(NullFormatter())

ax.grid(True, which='major', color=axc, alpha=0.15, lw=1.0)
ax.grid(True, which='minor', axis='y', color=axc, alpha=0.3, lw=0.8, ls=(0, (1, 3)))
ax.set_axisbelow(True)
ax.tick_params(which='both', direction='in', top=True, right=True, colors=axc,
               labelsize=20, width=1.0)
ax.tick_params(which='major', length=8.5)
ax.tick_params(which='minor', length=4.5)
ax.tick_params(axis='x', pad=12)
ax.tick_params(axis='y', pad=6)
for s in ax.spines.values():
    s.set_color(axc)
    s.set_linewidth(1.3)

ax.set_xlabel('Time [s]', family='Liberation Serif', fontsize=25, color=axc)
ax.set_ylabel('log ep', family='Liberation Serif', fontsize=25, color=axc,
              va='center', ha='center')
ax.xaxis.set_label_coords(0.5, -0.100)
ax.yaxis.set_label_coords(-0.088, 0.44)
ax.text(1.0, -0.110, r'$\times10^{-3}$', transform=ax.transAxes, ha='right', va='top',
        fontsize=22, color=axc)

for txt, (x, y, ha) in zip(region_labels, label_pos):
    ax.text(x * 1e-3, y, txt, ha=ha, va='baseline', fontsize=23, fontweight='bold',
            fontstyle='italic', color='k', zorder=6, clip_on=False)

blue = '#0072BD'
ax.add_patch(Ellipse((0.3366, 0.8574), 0.6117, 0.270, transform=ax.transAxes, fill=False,
                     ec=blue, lw=1.6, clip_on=False, zorder=5))
ax.add_patch(Ellipse((0.0099, 0.2383), 0.0755, 0.4447, transform=ax.transAxes, fill=False,
                     ec=blue, lw=1.6, clip_on=False, zorder=5))


def px(x, y):
    return (x / W, 1 - y / H)


def curved_arrow(outer, inner):
    verts = [px(*p) for p in outer[::-1]] + [px(*p) for p in inner]
    codes = [Path.MOVETO, Path.CURVE4, Path.CURVE4, Path.CURVE4,
             Path.LINETO, Path.CURVE4, Path.CURVE4, Path.CURVE4]
    return PathPatch(Path(verts, codes), fill=False, ec='#00B050', lw=1.6,
                     transform=fig.transFigure, clip_on=False, zorder=7)


fig.patches.append(curved_arrow([(186, 408), (250, 368), (450, 435), (470, 640)],
                                [(204, 429), (265, 398), (472, 455), (486, 640)]))
fig.patches.append(curved_arrow([(912, 50), (975, 8), (1230, 150), (1380, 463)],
                                [(933, 79), (985, 50), (1215, 165), (1380, 448)]))

fig.savefig('out.png', dpi=100)
